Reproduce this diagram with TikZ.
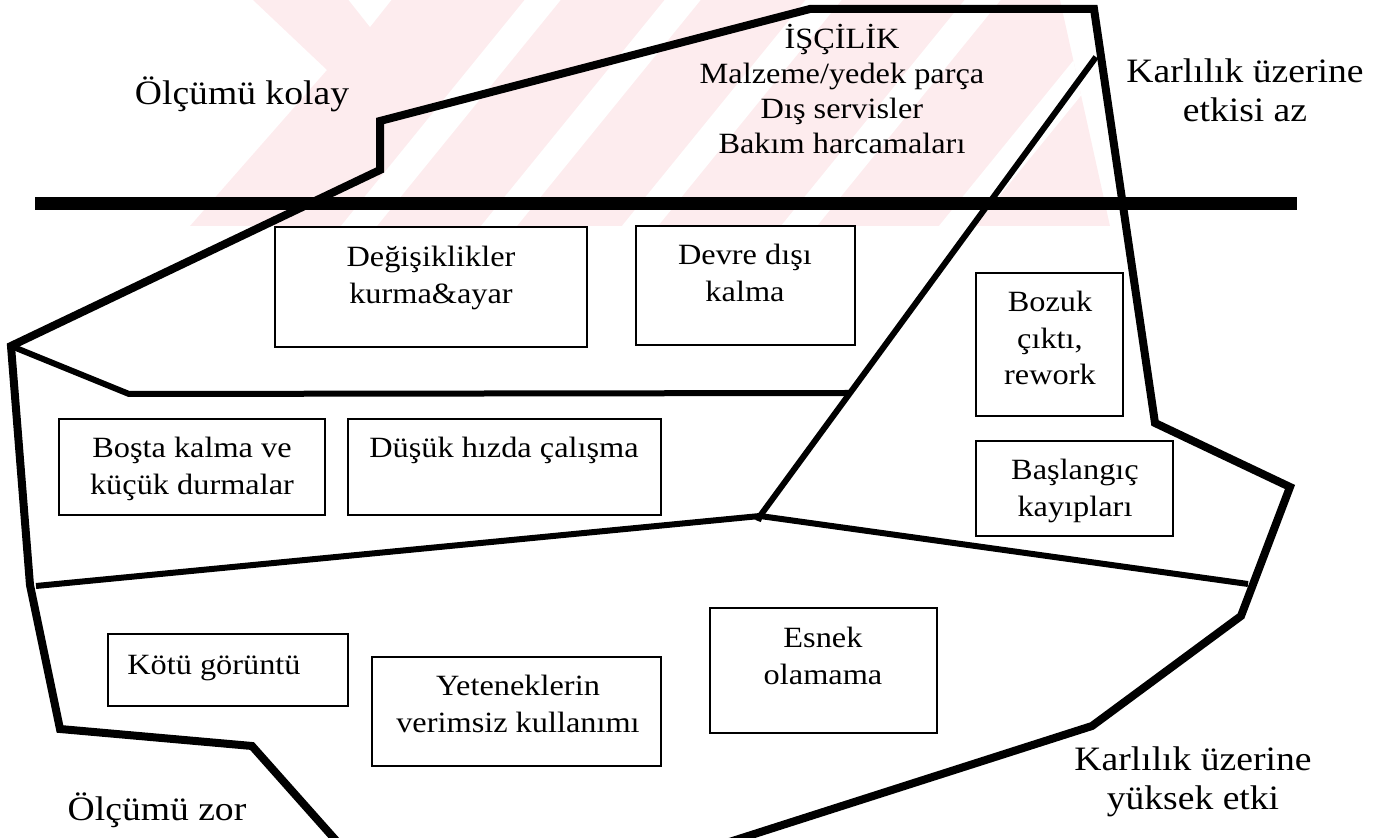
\documentclass[tikz,border=0pt]{standalone}
\usepackage{fontspec}
\setmainfont{Liberation Serif}[FakeStretch=1.1]
\usetikzlibrary{fit}
\definecolor{wmpink}{RGB}{253,236,238}
\newcommand{\mlines}[1]{\begin{tabular}[t]{@{}c@{}}#1\end{tabular}}
\begin{document}
\begin{tikzpicture}[x=0.5pt, y=-0.5pt,
  outer/.style={line width=4pt, line join=miter},
  part/.style={line width=3pt},
  thickbar/.style={line width=6.5pt},
  boxn/.style={draw, line width=1pt, inner sep=0pt},
  txt/.style={inner sep=0pt, anchor=base, font=\fontsize{14.7}{18.25}\selectfont},
  toptxt/.style={inner sep=0pt, anchor=base, font=\fontsize{14.7}{17.5}\selectfont},
  big/.style={inner sep=0pt, anchor=base, font=\fontsize{17.1}{19.5}\selectfont},
  wstripe/.style={line width=14pt, white}]
\useasboundingbox (0,0) rectangle (1389,838);
% watermark
\begin{scope}
  \clip (253,0) -- (1060,0) -- (1110,226) -- (190,226) -- (327,70) -- cycle;
  \fill[wmpink] (0,0) rectangle (1200,230);
  \foreach \bx in {307,447,588,747,905} {
    \draw[wstripe] (\bx+30,253) -- (\bx-30+290,-30);
  }
  \fill[white] (347,-2) -- (393,-2) -- (370,27) -- cycle;
\end{scope}
\begin{scope}
\clip (0,0) rectangle (1389,838);
% outer boundary points
\coordinate (L) at (11,346);
\coordinate (S1) at (380,170);
\coordinate (S2) at (380,121);
\coordinate (T1) at (810,9);
\coordinate (T2) at (1094,9);
\coordinate (R1) at (1155,423);
\coordinate (R2) at (1290,487);
\coordinate (R3) at (1241,616);
\coordinate (R4) at (1092,726);
\coordinate (B1) at (720,845);
\coordinate (B2) at (340,845);
\coordinate (B3) at (252,746);
\coordinate (B4) at (60,729);
\coordinate (LB) at (30,585);
% partition points
\coordinate (U1) at (129,394);
\coordinate (P1) at (850,393);
\coordinate (D1) at (1096,57);
\coordinate (D2) at (760,516);
\coordinate (D3) at (758,521);
\coordinate (M1) at (36,586);
\coordinate (M2) at (1248,584);
\coordinate (H1) at (35,204);
\coordinate (H2) at (1297,204);
\draw[outer] (B1) -- (R4) -- (R3) -- (R2) -- (R1) -- (T2) -- (T1) -- (S2) -- (S1) -- (L) -- (LB) -- (B4) -- (B3) -- (B2);
\draw[part] (L) -- (U1) -- (P1);
\draw[part] (D1) -- (D2) -- (D3);
\draw[part] (M1) -- (D2) -- (M2);
\draw[thickbar] (H1) -- (H2);
\end{scope}
% boxes
\node[boxn, fit={(275,227) (587,347)}] (b1) {};
\node[boxn, fit={(636,226) (855,345)}] (b2) {};
\node[boxn, fit={(976,273) (1123,416)}] (b3) {};
\node[boxn, fit={(976,441) (1173,536)}] (b4) {};
\node[boxn, fit={(59,419) (325,515)}] (b5) {};
\node[boxn, fit={(348,419) (661,515)}] (b6) {};
\node[boxn, fit={(108,634) (348,706)}] (b7) {};
\node[boxn, fit={(372,657) (661,766)}] (b8) {};
\node[boxn, fit={(710,608) (937,733)}] (b9) {};
% box texts
\node[txt] (t1) at (431,267) {\mlines{Değişiklikler\\kurma\&ayar}};
\node[txt] (t2) at (745,265) {\mlines{Devre dışı\\kalma}};
\node[txt] (t3) at (1050,312) {\mlines{Bozuk\\çıktı,\\rework}};
\node[txt] (t4) at (1075,480) {\mlines{Başlangıç\\kayıpları}};
\node[txt] (t5) at (192,458) {\mlines{Boşta kalma ve\\küçük durmalar}};
\node[txt] (t6) at (504,458) {Düşük hızda çalışma};
\node[txt] (t7) at (214,675) {Kötü görüntü};
\node[txt] (t8) at (518,696) {\mlines{Yeteneklerin\\verimsiz kullanımı}};
\node[txt] (t9) at (823,648) {\mlines{Esnek\\olamama}};
\node[toptxt] (t10) at (842,49) {\mlines{İŞÇİLİK\\Malzeme/yedek parça\\Dış servisler\\Bakım harcamaları}};
% outer labels
\node[big] (o1) at (242,105) {Ölçümü kolay};
\node[big] (o2) at (1245,83) {\mlines{Karlılık üzerine\\etkisi az}};
\node[big] (o3) at (157,821) {Ölçümü zor};
\node[big] (o4) at (1193,771) {\mlines{Karlılık üzerine\\yüksek etki}};
\end{tikzpicture}
\end{document}
